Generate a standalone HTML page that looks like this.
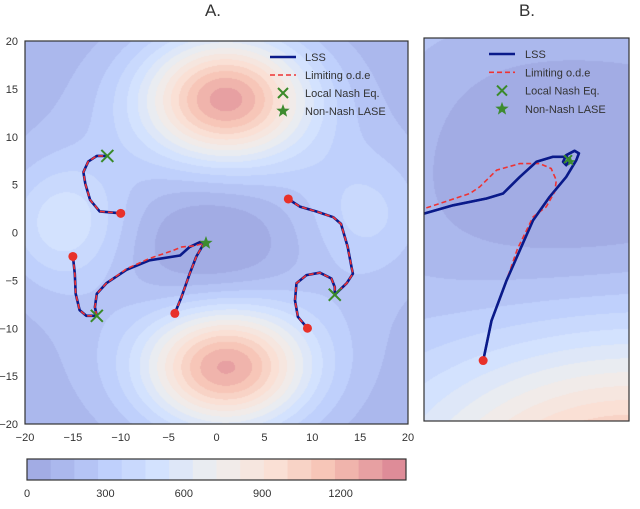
<!DOCTYPE html>
<html><head><meta charset="utf-8"><style>
body{margin:0;background:#fff;width:640px;height:509px;overflow:hidden;font-family:"Liberation Sans",sans-serif;}
#root{position:relative;width:640px;height:509px;}
canvas{position:absolute;}
svg{position:absolute;left:0;top:0;}
</style></head><body><div id="root">
<canvas id="cA" width="383" height="383" style="left:25px;top:41px"></canvas>
<canvas id="cB" width="205" height="383" style="left:424px;top:38px"></canvas>
<svg id="sv" width="640" height="509"></svg>
</div>
<script>
// ---- data ----
const cbarLevels = 16;
const cbarMax = 1450;
const cbarTicks = [0,300,600,900,1200];
const axisTicks = [-20,-15,-10,-5,0,5,10,15,20];
const trajA1 = [[-10,2],[-12.2,2.2],[-13.2,3.4],[-13.7,5.1],[-13.9,6.3],[-13.4,7.4],[-12.5,8.0],[-11.4,8.0]];
const trajA2 = [[-15,-2.5],[-14.8,-4.3],[-14.7,-6.4],[-14.3,-8.1],[-13.6,-8.7],[-12.5,-8.7]];
const trajA3 = [[-12.5,-8.7],[-12.7,-7.8],[-12.5,-6.4],[-11.5,-5.3],[-9.4,-3.9],[-7.0,-2.9],[-3.8,-2.4],[-2.8,-1.5],[-1.7,-1.0],[-1.1,-1.1]];
const trajA3ode = [[-12.5,-8.7],[-12.7,-7.8],[-12.5,-6.4],[-11.5,-5.3],[-9.4,-3.8],[-7.0,-2.7],[-4.6,-1.9],[-3.6,-1.5],[-2.4,-1.4],[-1.1,-1.1]];
const trajA4 = [[-4.35,-8.45],[-3.65,-6.7],[-2.8,-4.3],[-2.1,-2.5],[-1.4,-1.3],[-1.1,-1.1]];
const trajA5 = [[7.5,3.5],[8.7,2.7],[10.4,2.2],[12.2,1.6],[13.0,0.9],[13.7,-1.5],[14.1,-3.6],[14.25,-4.3],[13.6,-5.3],[12.35,-6.5]];
const trajA6 = [[9.5,-10],[8.5,-8.8],[8.2,-7.1],[8.35,-5.3],[9.4,-4.45],[10.8,-4.2],[12.0,-4.8],[12.35,-5.7],[12.35,-6.5]];
const startsA = [[-10,2],[-15,-2.5],[-4.35,-8.45],[7.5,3.5],[9.5,-10]];
const nashA = [[-11.4,8.0],[-12.5,-8.7],[12.35,-6.5]];
const laseA = [[-1.1,-1.1]];
const lssB = [[-4.52,-8.68],[-4.2,-7.15],[-3.62,-5.61],[-3.11,-4.45],[-2.6,-3.3],[-1.96,-2.4],[-1.32,-1.63],[-0.93,-0.99],[-0.83,-0.73],[-1.0,-0.63],[-1.32,-0.8],[-1.44,-1.05],[-1.32,-1.18],[-1.19,-0.99],[-1.3,-0.86],[-1.83,-0.86],[-2.47,-1.05],[-3.11,-1.63],[-3.75,-2.27],[-4.39,-2.46],[-5.68,-2.72],[-6.8,-3.04]];
const odeB = [[-4.52,-8.68],[-4.2,-7.15],[-3.62,-5.61],[-3.2,-4.4],[-2.6,-3.17],[-2.09,-2.78],[-1.76,-2.2],[-1.7,-1.76],[-1.9,-1.31],[-2.34,-1.12],[-3.11,-1.12],[-4.0,-1.37],[-4.65,-2.01],[-5.03,-2.27],[-6.8,-2.85]];
const startsB = [[-4.52,-8.68]];
const nashB = [[-1.25,-0.95]];
const laseB = [[-1.15,-1.05]];

// ---- scales ----
const A = {x0:25,y0:41,w:383,h:383,xmin:-20,xmax:20,ymin:-20,ymax:20};
const B = {x0:424,y0:38,w:205,h:383,xmin:-6.8,xmax:1.1,ymin:-11,ymax:3.7};
const sx=(p,v)=>p.x0+(v-p.xmin)/(p.xmax-p.xmin)*p.w;
const sy=(p,v)=>p.y0+(p.ymax-v)/(p.ymax-p.ymin)*p.h;

// ---- colormap ----
const anchors=[[0,[59,76,192]],[0.2,[120,155,248]],[0.35,[170,199,253]],[0.5,[221,221,221]],[0.65,[245,196,173]],[0.8,[238,133,104]],[1,[180,4,38]]];
function cw(t){for(let i=1;i<anchors.length;i++){if(t<=anchors[i][0]){const a=anchors[i-1],b=anchors[i];const u=(t-a[0])/(b[0]-a[0]);return a[1].map((c,k)=>c+(b[1][k]-c)*u);}}return anchors[anchors.length-1][1];}
const levelColors=[];
for(let i=0;i<cbarLevels;i++){const c=cw((i+0.5)/cbarLevels);levelColors.push(c.map(v=>Math.round(v*0.5+255*0.5)));}
function field(x,y){
 let v=40+300*Math.exp(-(x*x+y*y)/(2*16*16));
 v-=380*Math.exp(-((x+0.5)**2/(2*49)+(y+1.5)**2/(2*36)));
 v+=330*Math.exp(-((x+16)**2+(y-1)**2)/(2*20));
 v+=190*Math.exp(-((x-16)**2+(y-2)**2)/(2*20));
 v+=1080*Math.exp(-((x-1)**2/(2*36)+(y-14)**2/(2*20)));
 v+=1080*Math.exp(-((x-1)**2/(2*36)+(y+14)**2/(2*20)));
 return v;
}
function paint(id,p){
 const cv=document.getElementById(id),ctx=cv.getContext('2d');
 const img=ctx.createImageData(p.w,p.h);
 for(let j=0;j<p.h;j++)for(let i=0;i<p.w;i++){
  const x=p.xmin+(i+0.5)/p.w*(p.xmax-p.xmin), y=p.ymax-(j+0.5)/p.h*(p.ymax-p.ymin);
  let l=Math.floor(field(x,y)/cbarMax*cbarLevels); l=Math.max(0,Math.min(cbarLevels-1,l));
  const c=levelColors[l],k=(j*p.w+i)*4;
  img.data[k]=c[0];img.data[k+1]=c[1];img.data[k+2]=c[2];img.data[k+3]=255;
 }
 ctx.putImageData(img,0,0);
}
paint('cA',A);paint('cB',B);

// ---- svg ----
const sv=document.getElementById('sv'),NS='http://www.w3.org/2000/svg';
function mk(tag,at,name,parent){const e=document.createElementNS(NS,tag);for(const k in at)e.setAttribute(k,at[k]);


(parent||sv).appendChild(e);return e;}
function txt(x,y,s,name,anchor,size,extra){const t=mk('text',Object.assign({x:x,y:y,'font-size':size||11,fill:'#333','text-anchor':anchor||'middle','font-family':'Liberation Sans, sans-serif'},extra||{}),name);t.textContent=s;return t;}
function path(p,pts){return pts.map((q,i)=>(i?'L':'M')+sx(p,q[0]).toFixed(1)+' '+sy(p,q[1]).toFixed(1)).join(' ');}
function traj(p,pts,odePts,name){
 mk('path',{d:path(p,pts),fill:'none',stroke:'#0a1a8a','stroke-width':2.6,'stroke-linejoin':'round'},name+'-lss');
 mk('path',{d:path(p,odePts||pts),fill:'none',stroke:'#ee3333','stroke-width':1.6,'stroke-dasharray':'5 3'},name+'-ode');
}
function dot(p,q,name){mk('circle',{cx:sx(p,q[0]),cy:sy(p,q[1]),r:4.5,fill:'#e8312a'},name);}
function cross(x,y,s,name){mk('path',{d:`M${x-s} ${y-s}L${x+s} ${y+s}M${x-s} ${y+s}L${x+s} ${y-s}`,stroke:'#3a8a2a','stroke-width':2,fill:'none'},name);}
function star(x,y,r,name){let d='';for(let i=0;i<10;i++){const a=-Math.PI/2+i*Math.PI/5,rr=i%2?r*0.42:r;d+=(i?'L':'M')+(x+rr*Math.cos(a)).toFixed(1)+' '+(y+rr*Math.sin(a)).toFixed(1);}mk('path',{d:d+'Z',fill:'#3d8b2f'},name);}

[trajA1,trajA2,trajA4,trajA5,trajA6].forEach((t,i)=>traj(A,t,null,'trajectory-a'+(i+1)));
traj(A,trajA3,trajA3ode,'trajectory-a-long');
startsA.forEach(q=>dot(A,q,'start-point'));
nashA.forEach(q=>cross(sx(A,q[0]),sy(A,q[1]),6,'local-nash-marker'));
laseA.forEach(q=>star(sx(A,q[0]),sy(A,q[1]),7,'non-nash-lase-marker'));
mk('rect',{x:A.x0,y:A.y0,width:A.w,height:A.h,fill:'none',stroke:'#333','stroke-width':1.2},'panel-a-frame');
axisTicks.forEach(v=>{txt(sx(A,v),441,String(v).replace('-','−'),'x-tick-label');txt(18,sy(A,v)+4,String(v).replace('-','−'),'y-tick-label','end');});
txt(213,16,'A.','panel-a-title','middle',17);

traj(B,lssB,odeB,'trajectory-b');
mk('path',{d:path(B,lssB),fill:'none',stroke:'#0a1a8a','stroke-width':2.2},'trajectory-b-lss-top');
startsB.forEach(q=>dot(B,q,'start-point-b'));
nashB.forEach(q=>cross(sx(B,q[0]),sy(B,q[1]),4,'local-nash-marker-b'));
laseB.forEach(q=>star(sx(B,q[0]),sy(B,q[1]),5,'non-nash-lase-marker-b'));
mk('rect',{x:B.x0,y:B.y0,width:B.w,height:B.h,fill:'none',stroke:'#333','stroke-width':1.2},'panel-b-frame');
txt(527,16,'B.','panel-b-title','middle',17);

function legend(lx,ly,tx,gap,name){
 const g=mk('g',{},name);
 mk('line',{x1:lx,y1:ly,x2:lx+26,y2:ly,stroke:'#0a1a8a','stroke-width':2.6},'legend-lss-line',g);
 mk('line',{x1:lx,y1:ly+gap,x2:lx+26,y2:ly+gap,stroke:'#ee3333','stroke-width':1.6,'stroke-dasharray':'5 3'},'legend-ode-line',g);
 cross(lx+13,ly+2*gap,5,'legend-nash-marker');
 star(lx+13,ly+3*gap,7,'legend-lase-marker');
 ['LSS','Limiting o.d.e','Local Nash Eq.','Non-Nash LASE'].forEach((s,i)=>txt(tx,ly+i*gap+4,s,'legend-label','start',11));
}
legend(270,57,305,18,'legend-a');
legend(489,54,525,18.3,'legend-b');

const cb={x:27,y:459,w:379,h:21};
for(let i=0;i<cbarLevels;i++){const c=levelColors[i];
 mk('rect',{x:cb.x+i*cb.w/cbarLevels,y:cb.y,width:cb.w/cbarLevels+0.5,height:cb.h,fill:`rgb(${c[0]},${c[1]},${c[2]})`},'colorbar-segment');}
mk('rect',{x:cb.x,y:cb.y,width:cb.w,height:cb.h,fill:'none',stroke:'#333','stroke-width':1.2},'colorbar-frame');
cbarTicks.forEach(v=>txt(cb.x+v/cbarMax*cb.w,497,String(v),'colorbar-tick-label'));
</script></body></html>
